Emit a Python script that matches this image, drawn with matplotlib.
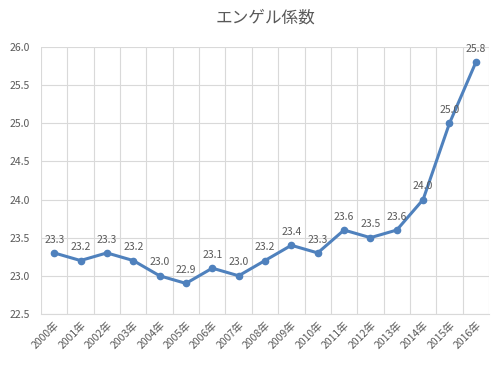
import matplotlib
matplotlib.use("Agg")
import matplotlib.pyplot as plt
from matplotlib.ticker import MultipleLocator, FixedLocator

plt.rcParams["font.family"] = ["Noto Sans CJK JP", "DejaVu Sans"]

years = [f"{y}年" for y in range(2000, 2017)]
values = [23.3, 23.2, 23.3, 23.2, 23.0, 22.9, 23.1, 23.0, 23.2,
          23.4, 23.3, 23.6, 23.5, 23.6, 24.0, 25.0, 25.8]

line_color = "#4F81BD"
text_color = "#595959"
grid_color = "#D9D9D9"

fig = plt.figure(figsize=(5, 3.65), dpi=100)
ax = fig.add_axes([0.082, 0.14, 0.896, 0.731])

x = list(range(len(years)))
ax.plot(x, values, color=line_color, linewidth=2.2, marker="o",
        markersize=4.5, zorder=3)

for xi, v in zip(x, values):
    ax.annotate(f"{v:.1f}", (xi, v), xytext=(0, 6), textcoords="offset points",
                ha="center", va="bottom", fontsize=7.5, color=text_color)

ax.set_xlim(-0.5, len(years) - 0.5)
ax.set_ylim(22.5, 26.0)
ax.yaxis.set_major_locator(MultipleLocator(0.5))
ax.set_yticklabels([f"{t:.1f}" for t in ax.get_yticks()])

ax.set_xticks(x)
ax.set_xticklabels(years, rotation=45, ha="right", rotation_mode="anchor")
ax.xaxis.set_minor_locator(FixedLocator([i - 0.5 for i in range(len(years) + 1)]))

ax.grid(axis="y", which="major", color=grid_color, linewidth=0.8)
ax.grid(axis="x", which="minor", color=grid_color, linewidth=0.8)
ax.set_axisbelow(True)

for side in ["top", "right", "left"]:
    ax.spines[side].set_visible(False)
ax.spines["bottom"].set_color(grid_color)

ax.tick_params(axis="both", which="both", length=0, colors=text_color, labelsize=7.5)
ax.tick_params(axis="y", pad=8)
ax.tick_params(axis="x", pad=4)

fig.suptitle("エンゲル係数", x=0.53, y=0.975, fontsize=12, color=text_color)

fig.savefig("out.png", dpi=100)
plt.close(fig)
